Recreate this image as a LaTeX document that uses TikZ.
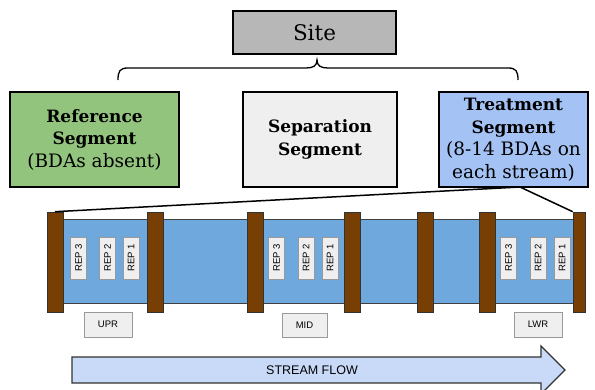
\documentclass[tikz,border=0pt]{standalone}
\usepackage{fontspec}
\setmainfont{DejaVu Serif}
\newfontfamily\arialf{Liberation Sans}
\definecolor{siteg}{HTML}{B7B7B7}
\definecolor{refg}{HTML}{93C47D}
\definecolor{sepg}{HTML}{EFEFEF}
\definecolor{trtb}{HTML}{A4C2F4}
\definecolor{strb}{HTML}{6FA8DC}
\definecolor{postb}{HTML}{783F04}
\definecolor{arrb}{HTML}{C9DAF8}
\definecolor{greyb}{HTML}{999999}
\newcommand{\bl}[1]{{\fontsize{17}{22.5}\selectfont\textbf{#1}}}
\newcommand{\rg}[1]{{\fontsize{18.5}{22.5}\selectfont #1}}
\tikzset{
  segbox/.style={draw=black, line width=1.2pt, align=center, inner sep=0pt,
    minimum height=95pt, font=\fontsize{17}{22.5}\selectfont},
  postbox/.style={draw=black!80, line width=0.6pt, fill=postb, minimum width=16pt,
    minimum height=100pt, inner sep=0pt},
  repbox/.style={draw=greyb, line width=0.6pt, fill=sepg, minimum width=16pt,
    minimum height=42pt, inner sep=0pt},
  reptext/.style={rotate=90, font=\arialf\fontsize{9.5}{10}\selectfont, inner sep=0pt},
  lblbox/.style={draw=greyb, line width=0.8pt, fill=sepg, minimum width=48pt,
    minimum height=25pt, inner sep=0pt, font=\arialf\fontsize{9.5}{10}\selectfont},
  calline/.style={line width=1.5pt, black}
}
\begin{document}
\begin{tikzpicture}[x=1pt,y=-1pt]
\useasboundingbox (0,0) rectangle (595,390);
% site
\node[draw=black, line width=1.5pt, fill=siteg, minimum width=163pt, minimum height=43pt,
  inner sep=0pt, font=\fontsize{21.5}{24}\selectfont] (site) at (314.5,32.5) {Site};
% brace
\coordinate (bl) at (118,80);
\coordinate (br) at (518,80);
\coordinate (bt) at (317,60);
\draw[line width=1.3pt] (bl) .. controls (118,71) and (120,68) .. (128,68) -- (306,68)
  .. controls (313,68) and (317,66) .. (bt) .. controls (317,66) and (321,68) .. (328,68)
  -- (508,68) .. controls (516,68) and (518,71) .. (br);
% segments
\node[segbox, fill=refg, minimum width=169pt] (ref) at (94.5,139.5)
  {\bl{Reference}\\\bl{Segment}\\\rg{(BDAs absent)}};
\node[segbox, fill=sepg, minimum width=154pt] (sep) at (320,139.5)
  {\bl{Separation}\\\bl{Segment}};
\node[segbox, fill=trtb, minimum width=149pt] (trt) at (513.5,139.5)
  {\bl{Treatment}\\\bl{Segment}\\\rg{(8-14 BDAs on}\\\rg{each stream)}};
% stream
\fill[strb] (62,219) rectangle (573,303);
\draw[black!75, line width=0.6pt] (62,219) -- (573,219) (62,303) -- (573,303);
% posts
\node[postbox] (p1) at (55,262) {};
\node[postbox] (p2) at (155,262) {};
\node[postbox] (p3) at (255,262) {};
\node[postbox] (p4) at (352,262) {};
\node[postbox] (p5) at (425,262) {};
\node[postbox] (p6) at (487,262) {};
\node[postbox, minimum width=12pt] (p7) at (579,262) {};
% callout lines
\coordinate (tc) at (520,187);
\draw[calline] (tc) -- (p1.north);
\draw[calline] (tc) -- (p7.north west);
% reps
\foreach \nm/\xx/\lab in {a3/78.5/3, a2/107.5/2, a1/131/1,
                          b3/276.5/3, b2/306/2, b1/330/1,
                          c3/508.5/3, c2/538/2, c1/562/1}{
  \node[repbox] (r\nm) at (\xx,258) {};
  \node[reptext] at (r\nm.center) {REP \lab};
}
% labels
\node[lblbox] (upr) at (108,324.5) {UPR};
\node[lblbox, minimum width=45pt, minimum height=24pt] (mid) at (304.5,325) {MID};
\node[lblbox] (lwr) at (538,324.5) {LWR};
% flow arrow
\draw[draw=black!80, line width=1.2pt, fill=arrb] (72,357) -- (541,357) -- (541,346)
  -- (565,370) -- (541,394) -- (541,383) -- (72,383) -- cycle;
\node[font=\arialf\fontsize{12.5}{14}\selectfont, inner sep=0pt] (flow) at (312,370) {STREAM FLOW};
\end{tikzpicture}
\end{document}
